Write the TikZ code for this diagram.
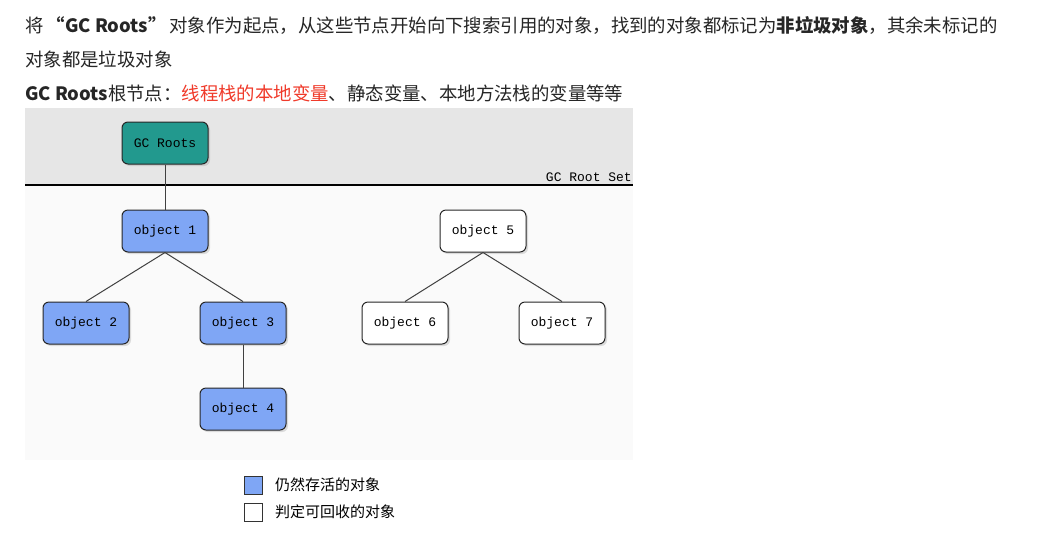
\documentclass[tikz,border=0pt]{standalone}
\usepackage{fontspec}
\usetikzlibrary{shadows}
\setmainfont{Noto Sans CJK SC}
\newfontfamily\monof{Liberation Mono}
\definecolor{gray1}{HTML}{E6E6E6}
\definecolor{teal1}{HTML}{22998E}
\definecolor{blue1}{HTML}{7FA6F5}
\definecolor{red1}{HTML}{F03A2A}
\begin{document}
\begin{tikzpicture}[x=1pt,y=-1pt,
  obj/.style={draw=black!85,line width=1pt,rounded corners=6pt,minimum width=86pt,minimum height=42pt,font=\monof\fontsize{13}{13}\selectfont,drop shadow={opacity=0.25,shadow xshift=2pt,shadow yshift=-2pt}},
  txt/.style={anchor=west,font=\fontsize{18.4}{18.4}\selectfont,inner sep=0pt,text=black!85},
  ln/.style={draw=black!75,line width=1pt}]
\useasboundingbox (0,0) rectangle (1043,539);
\fill[white] (0,0) rectangle (1043,539);
\fill[gray1] (25,108) rectangle (633,185);
\fill[black!2] (25,185) rectangle (633,460);
\draw[line width=1.2pt] (25,185) -- (633,185);
\node[anchor=south east,font=\monof\fontsize{13}{13}\selectfont,inner sep=1pt] (set) at (633,183) {GC Root Set};
\node[txt] (l1) at (25,25) {将\,{\bfseries “GC Roots”}\,对象作为起点，从这些节点开始向下搜索引用的对象，找到的对象都标记为{\bfseries 非垃圾对象}，其余未标记的};
\node[txt] (l2) at (25,59) {对象都是垃圾对象};
\node[txt] (l3) at (25,93) {{\bfseries GC Roots}根节点：\textcolor{red1}{线程栈的本地变量}、静态变量、本地方法栈的变量等等};
\node[obj,fill=teal1] (gc) at (165,143) {GC Roots};
\node[obj,fill=blue1] (o1) at (165,231) {object 1};
\node[obj,fill=blue1] (o2) at (86,323) {object 2};
\node[obj,fill=blue1] (o3) at (243,323) {object 3};
\node[obj,fill=blue1] (o4) at (243,409) {object 4};
\node[obj,fill=white] (o5) at (483,231) {object 5};
\node[obj,fill=white] (o6) at (405,323) {object 6};
\node[obj,fill=white] (o7) at (562,323) {object 7};
\draw[ln] (gc) -- (o1);
\draw[ln] (o1.south) -- (o2.north);
\draw[ln] (o1.south) -- (o3.north);
\draw[ln] (o3) -- (o4);
\draw[ln] (o5.south) -- (o6.north);
\draw[ln] (o5.south) -- (o7.north);
\node[draw=black!80,line width=1pt,fill=blue1,minimum size=18pt,inner sep=0pt] (k1) at (253,485) {};
\node[draw=black!80,line width=1pt,fill=white,minimum size=18pt,inner sep=0pt] (k2) at (253,512) {};
\node[anchor=west,font=\fontsize{15}{15}\selectfont,inner sep=0pt] (t1) at (275,485) {仍然存活的对象};
\node[anchor=west,font=\fontsize{15}{15}\selectfont,inner sep=0pt] (t2) at (275,512) {判定可回收的对象};
\end{tikzpicture}
\end{document}
